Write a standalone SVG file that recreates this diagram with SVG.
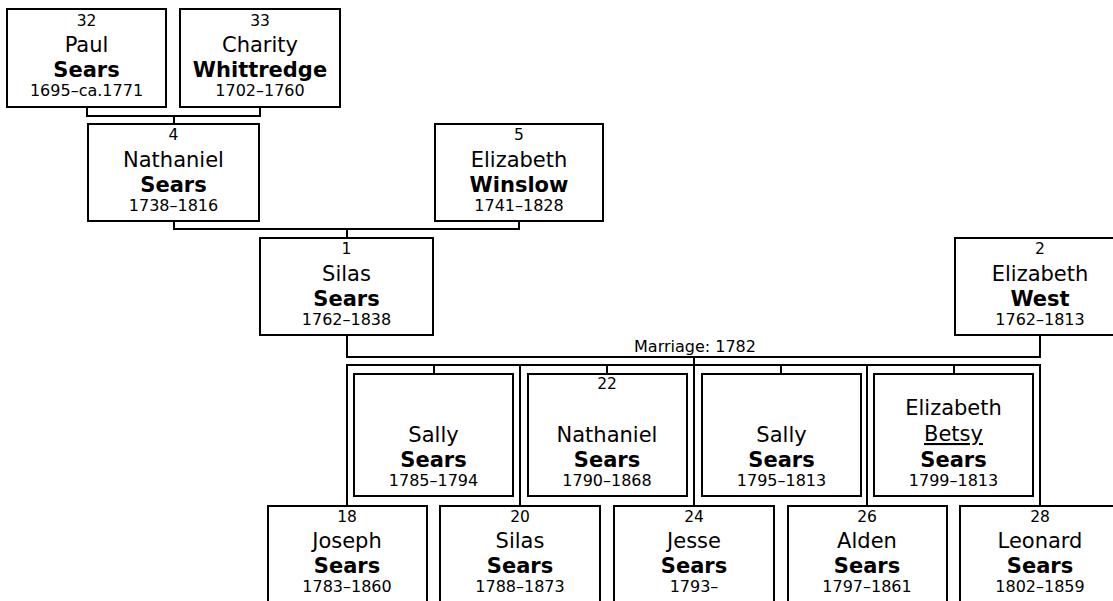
<svg xmlns="http://www.w3.org/2000/svg" width="1113" height="601" viewBox="0 0 1113 601">
<style>
.b{fill:#fff;stroke:#000;stroke-width:2}
.c{fill:none;stroke:#000;stroke-width:2}
text{font-family:"DejaVu Sans",Verdana,sans-serif;text-anchor:middle;fill:#000}
.n{font-size:15.5px}
.g{font-size:21px}
.s{font-size:21px;font-weight:bold}
.d{font-size:16px}
.u{text-decoration:underline}
</style>
<rect width="1113" height="601" fill="#fff"/>
<g id="connectors">
<path class="c" d="M87,108V116H260V108M174,116V123"/>
<path class="c" d="M174,222V229H519V222M347,229V237"/>
<path class="c" d="M347,336V357H1040V336"/>
<path class="c" d="M694,357V505"/>
<path class="c" d="M347,505V365H1040V505M520,365V505M867,365V505"/>
<path class="c" d="M434,365V373M607,365V373M781,365V373M954,365V373"/>
<text x="695" y="352" class="d">Marriage: 1782</text>
</g>
<g id="p32"><rect class="b" x="7" y="9" width="159" height="98"/>
<text x="86.5" y="26" class="n">32</text><text x="86.5" y="52" class="g">Paul</text><text x="86.5" y="77" class="s">Sears</text><text x="86.5" y="96" class="d">1695–ca.1771</text></g>
<g id="p33"><rect class="b" x="180" y="9" width="160" height="98"/>
<text x="260" y="26" class="n">33</text><text x="260" y="52" class="g">Charity</text><text x="260" y="77" class="s">Whittredge</text><text x="260" y="96" class="d">1702–1760</text></g>
<g id="p4"><rect class="b" x="88" y="124" width="171" height="97"/>
<text x="173.5" y="140" class="n">4</text><text x="173.5" y="167" class="g">Nathaniel</text><text x="173.5" y="192" class="s">Sears</text><text x="173.5" y="211" class="d">1738–1816</text></g>
<g id="p5"><rect class="b" x="435" y="124" width="168" height="97"/>
<text x="519" y="140" class="n">5</text><text x="519" y="167" class="g">Elizabeth</text><text x="519" y="192" class="s">Winslow</text><text x="519" y="211" class="d">1741–1828</text></g>
<g id="p1"><rect class="b" x="260" y="238" width="173" height="97"/>
<text x="346.5" y="254" class="n">1</text><text x="346.5" y="281" class="g">Silas</text><text x="346.5" y="306" class="s">Sears</text><text x="346.5" y="325" class="d">1762–1838</text></g>
<g id="p2"><rect class="b" x="955" y="238" width="172" height="97"/>
<text x="1040" y="254" class="n">2</text><text x="1040" y="281" class="g">Elizabeth</text><text x="1040" y="306" class="s">West</text><text x="1040" y="325" class="d">1762–1813</text></g>
<g id="c_sally1"><rect class="b" x="354" y="374" width="159" height="122"/>
<text x="433.5" y="442" class="g">Sally</text><text x="433.5" y="467" class="s">Sears</text><text x="433.5" y="486" class="d">1785–1794</text></g>
<g id="c22"><rect class="b" x="528" y="374" width="159" height="122"/>
<text x="607" y="389" class="n">22</text><text x="607" y="442" class="g">Nathaniel</text><text x="607" y="467" class="s">Sears</text><text x="607" y="486" class="d">1790–1868</text></g>
<g id="c_sally2"><rect class="b" x="702" y="374" width="159" height="122"/>
<text x="781.5" y="442" class="g">Sally</text><text x="781.5" y="467" class="s">Sears</text><text x="781.5" y="486" class="d">1795–1813</text></g>
<g id="c_eliz"><rect class="b" x="874" y="374" width="159" height="122"/>
<text x="953.5" y="415" class="g">Elizabeth</text><text x="953.5" y="441" class="g u">Betsy</text><text x="953.5" y="467" class="s">Sears</text><text x="953.5" y="486" class="d">1799–1813</text></g>
<g id="c18"><rect class="b" x="268" y="506" width="159" height="98"/>
<text x="347" y="522" class="n">18</text><text x="347" y="548" class="g">Joseph</text><text x="347" y="573" class="s">Sears</text><text x="347" y="592" class="d">1783–1860</text></g>
<g id="c20"><rect class="b" x="440" y="506" width="160" height="98"/>
<text x="520" y="522" class="n">20</text><text x="520" y="548" class="g">Silas</text><text x="520" y="573" class="s">Sears</text><text x="520" y="592" class="d">1788–1873</text></g>
<g id="c24"><rect class="b" x="614" y="506" width="160" height="98"/>
<text x="694" y="522" class="n">24</text><text x="694" y="548" class="g">Jesse</text><text x="694" y="573" class="s">Sears</text><text x="694" y="592" class="d">1793–</text></g>
<g id="c26"><rect class="b" x="788" y="506" width="159" height="98"/>
<text x="867" y="522" class="n">26</text><text x="867" y="548" class="g">Alden</text><text x="867" y="573" class="s">Sears</text><text x="867" y="592" class="d">1797–1861</text></g>
<g id="c28"><rect class="b" x="960" y="506" width="160" height="98"/>
<text x="1040" y="522" class="n">28</text><text x="1040" y="548" class="g">Leonard</text><text x="1040" y="573" class="s">Sears</text><text x="1040" y="592" class="d">1802–1859</text></g>
</svg>
